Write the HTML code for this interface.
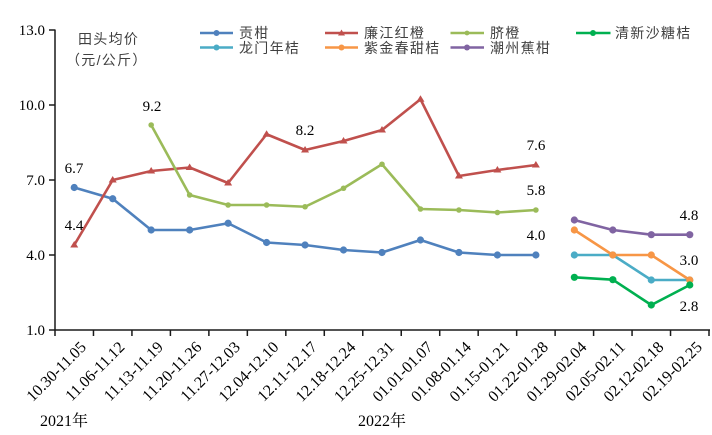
<!DOCTYPE html>
<html><head><meta charset="utf-8"><style>
html,body{margin:0;padding:0;background:#fff;}
svg{display:block;}
.t{font-family:"Liberation Serif","Noto Serif CJK SC",serif;font-size:15px;fill:#000;}
.x{font-family:"Liberation Serif","Noto Serif CJK SC",serif;font-size:16px;fill:#000;}
.c{font-family:"Liberation Sans","Noto Sans CJK SC",sans-serif;font-size:14px;fill:#404040;letter-spacing:1.3px;}
</style></head><body>
<svg width="712" height="435" viewBox="0 0 712 435" xmlns="http://www.w3.org/2000/svg">
<rect width="712" height="435" fill="#fff"/>
<!-- axes -->
<g stroke="#1a1a1a" stroke-width="1.5" fill="none">
<line x1="55" y1="29.5" x2="55" y2="330"/>
<line x1="54.3" y1="330" x2="710" y2="330"/>
<line x1="49" y1="30" x2="55" y2="30"/>
<line x1="49" y1="105" x2="55" y2="105"/>
<line x1="49" y1="180" x2="55" y2="180"/>
<line x1="49" y1="255" x2="55" y2="255"/>
<line x1="49" y1="330" x2="55" y2="330"/>
<path d="M55 330v6M93.47 330v6M131.94 330v6M170.41 330v6M208.88 330v6M247.35 330v6M285.82 330v6M324.29 330v6M362.76 330v6M401.24 330v6M439.71 330v6M478.18 330v6M516.65 330v6M555.12 330v6M593.59 330v6M632.06 330v6M670.53 330v6M709 330v6"/>
</g>
<!-- y tick labels -->
<g class="t" text-anchor="end">
<text x="45" y="35">13.0</text>
<text x="45" y="110">10.0</text>
<text x="45" y="185">7.0</text>
<text x="45" y="260">4.0</text>
<text x="45" y="335">1.0</text>
</g>
<!-- y title -->
<text class="c" x="78" y="44">田头均价</text>
<text class="c" x="66" y="65" letter-spacing="0.3">（元/公斤）</text>
<!-- x labels -->
<g class="x" text-anchor="end">
<text transform="translate(87,348) rotate(-45)">10.30-11.05</text>
<text transform="translate(125.5,348) rotate(-45)">11.06-11.12</text>
<text transform="translate(164,348) rotate(-45)">11.13-11.19</text>
<text transform="translate(202.5,348) rotate(-45)">11.20-11.26</text>
<text transform="translate(241,348) rotate(-45)">11.27-12.03</text>
<text transform="translate(279.5,348) rotate(-45)">12.04-12.10</text>
<text transform="translate(318,348) rotate(-45)">12.11-12.17</text>
<text transform="translate(356.5,348) rotate(-45)">12.18-12.24</text>
<text transform="translate(395,348) rotate(-45)">12.25-12.31</text>
<text transform="translate(433.5,348) rotate(-45)">01.01-01.07</text>
<text transform="translate(472,348) rotate(-45)">01.08-01.14</text>
<text transform="translate(510.5,348) rotate(-45)">01.15-01.21</text>
<text transform="translate(549,348) rotate(-45)">01.22-01.28</text>
<text transform="translate(587.5,348) rotate(-45)">01.29-02.04</text>
<text transform="translate(626,348) rotate(-45)">02.05-02.11</text>
<text transform="translate(664.5,348) rotate(-45)">02.12-02.18</text>
<text transform="translate(703,348) rotate(-45)">02.19-02.25</text>
</g>
<text class="t" x="40" y="426" style="font-size:16px">2021年</text>
<text class="t" x="358" y="426" style="font-size:16px">2022年</text>
<!-- series -->
<g fill="none" stroke-width="2.6" stroke-linejoin="round">
<polyline stroke="#4f81bd" points="74.24,187.5 112.71,198.75 151.18,230 189.65,230 228.12,223.25 266.59,242.5 305.06,245 343.53,250 382,252.5 420.47,240 458.94,252.5 497.41,255 535.88,255"/>
<polyline stroke="#c0504d" points="74.24,245 112.71,180 151.18,171 189.65,167.5 228.12,183 266.59,134.25 305.06,150 343.53,141 382,130 420.47,99.25 458.94,176 497.41,170 535.88,165"/>
<polyline stroke="#9bbb59" points="151.18,125 189.65,195 228.12,205 266.59,205 305.06,206.75 343.53,188.25 382,164.25 420.47,209 458.94,210 497.41,212.5 535.88,210"/>
<polyline stroke="#8064a2" points="574.35,220 612.82,230 651.29,234.7 689.76,234.7"/>
<polyline stroke="#4bacc6" points="574.35,255 612.82,255 651.29,280 689.76,280"/>
<polyline stroke="#f79646" points="574.35,230 612.82,255 651.29,255 689.76,280"/>
<polyline stroke="#00b050" points="574.35,277.3 612.82,279.7 651.29,305 689.76,285"/>
</g>
<!-- markers -->
<g fill="#4f81bd">
<circle cx="74.24" cy="187.5" r="3.6"/><circle cx="112.71" cy="198.75" r="3.6"/><circle cx="151.18" cy="230" r="3.6"/><circle cx="189.65" cy="230" r="3.6"/><circle cx="228.12" cy="223.25" r="3.6"/><circle cx="266.59" cy="242.5" r="3.6"/><circle cx="305.06" cy="245" r="3.6"/><circle cx="343.53" cy="250" r="3.6"/><circle cx="382" cy="252.5" r="3.6"/><circle cx="420.47" cy="240" r="3.6"/><circle cx="458.94" cy="252.5" r="3.6"/><circle cx="497.41" cy="255" r="3.6"/><circle cx="535.88" cy="255" r="3.6"/>
</g>
<g fill="#c0504d">
<path d="M74.24 241l4 6.5h-8z"/><path d="M112.71 176l4 6.5h-8z"/><path d="M151.18 167l4 6.5h-8z"/><path d="M189.65 163.5l4 6.5h-8z"/><path d="M228.12 179l4 6.5h-8z"/><path d="M266.59 130.25l4 6.5h-8z"/><path d="M305.06 146l4 6.5h-8z"/><path d="M343.53 137l4 6.5h-8z"/><path d="M382 126l4 6.5h-8z"/><path d="M420.47 95.25l4 6.5h-8z"/><path d="M458.94 172l4 6.5h-8z"/><path d="M497.41 166l4 6.5h-8z"/><path d="M535.88 161l4 6.5h-8z"/>
</g>
<g fill="#9bbb59">
<circle cx="151.18" cy="125" r="2.8"/><circle cx="189.65" cy="195" r="2.8"/><circle cx="228.12" cy="205" r="2.8"/><circle cx="266.59" cy="205" r="2.8"/><circle cx="305.06" cy="206.75" r="2.8"/><circle cx="343.53" cy="188.25" r="2.8"/><circle cx="382" cy="164.25" r="2.8"/><circle cx="420.47" cy="209" r="2.8"/><circle cx="458.94" cy="210" r="2.8"/><circle cx="497.41" cy="212.5" r="2.8"/><circle cx="535.88" cy="210" r="2.8"/>
</g>
<g fill="#8064a2"><circle cx="574.35" cy="220" r="3.6"/><circle cx="612.82" cy="230" r="3.6"/><circle cx="651.29" cy="234.7" r="3.6"/><circle cx="689.76" cy="234.7" r="3.6"/></g>
<g fill="#4bacc6"><circle cx="574.35" cy="255" r="3.6"/><circle cx="612.82" cy="255" r="3.6"/><circle cx="651.29" cy="280" r="3.6"/><circle cx="689.76" cy="280" r="3.6"/></g>
<g fill="#f79646"><circle cx="574.35" cy="230" r="3.6"/><circle cx="612.82" cy="255" r="3.6"/><circle cx="651.29" cy="255" r="3.6"/><circle cx="689.76" cy="280" r="3.6"/></g>
<g fill="#00b050"><circle cx="574.35" cy="277.3" r="3.6"/><circle cx="612.82" cy="279.7" r="3.6"/><circle cx="651.29" cy="305" r="3.6"/><circle cx="689.76" cy="285" r="3.6"/></g>
<!-- data labels -->
<g class="t" text-anchor="middle">
<text x="74" y="173">6.7</text>
<text x="74" y="230">4.4</text>
<text x="152" y="111">9.2</text>
<text x="305" y="135">8.2</text>
<text x="536" y="150">7.6</text>
<text x="536" y="195">5.8</text>
<text x="536" y="240">4.0</text>
<text x="689" y="220">4.8</text>
<text x="689" y="265">3.0</text>
<text x="689" y="311">2.8</text>
</g>
<!-- legend -->
<g stroke-width="2.6">
<line x1="200" y1="33" x2="233" y2="33" stroke="#4f81bd"/>
<line x1="200" y1="47.5" x2="233" y2="47.5" stroke="#4bacc6"/>
<line x1="325" y1="33" x2="358" y2="33" stroke="#c0504d"/>
<line x1="325" y1="47.5" x2="358" y2="47.5" stroke="#f79646"/>
<line x1="450.5" y1="33" x2="484" y2="33" stroke="#9bbb59"/>
<line x1="450.5" y1="47.5" x2="484" y2="47.5" stroke="#8064a2"/>
<line x1="576" y1="33" x2="610.5" y2="33" stroke="#00b050"/>
</g>
<circle cx="216.5" cy="33" r="3" fill="#4f81bd"/>
<circle cx="216.5" cy="47.5" r="3" fill="#4bacc6"/>
<path d="M341.5 29.5l3.5 6h-7z" fill="#c0504d"/>
<circle cx="341.5" cy="47.5" r="3" fill="#f79646"/>
<circle cx="467" cy="33" r="2.4" fill="#9bbb59"/>
<circle cx="467" cy="47.5" r="3" fill="#8064a2"/>
<circle cx="593" cy="33" r="3" fill="#00b050"/>
<g class="c">
<text x="239" y="38">贡柑</text>
<text x="239" y="53">龙门年桔</text>
<text x="364" y="38">廉江红橙</text>
<text x="364" y="53">紫金春甜桔</text>
<text x="490" y="38">脐橙</text>
<text x="490" y="53">潮州蕉柑</text>
<text x="615" y="38">清新沙糖桔</text>
</g>
</svg>
</body></html>
